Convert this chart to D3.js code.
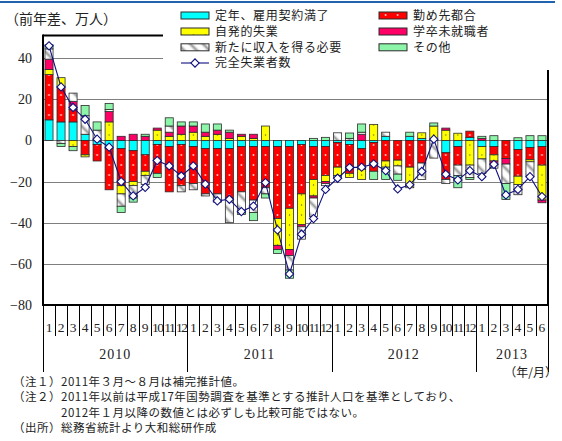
<!DOCTYPE html>
<html>
<head>
<meta charset="utf-8">
<script src="https://cdn.jsdelivr.net/npm/d3@7"></script>
<style>
  body { margin: 0; background: #fff; }
  svg { display: block; }
  .jp { font-family: "Noto Sans CJK JP", sans-serif; }
  .num { font-family: "Liberation Serif", "DejaVu Serif", serif; }
</style>
</head>
<body>
<svg id="chart" width="562" height="441"></svg>
<script>
// ---- data (前年差, 万人) : 2010/1 – 2013/6 ----
const monthLabels = ["1","2","3","4","5","6","7","8","9","10","11","12",
                     "1","2","3","4","5","6","7","8","9","10","11","12",
                     "1","2","3","4","5","6","7","8","9","10","11","12",
                     "1","2","3","4","5","6"];
const yearLabels  = ["2010", "2011", "2012", "2013"];
const yearLengths = [12, 12, 12, 6];
const yTicks = [-80, -60, -40, -20, 0, 20, 40];

const seriesNames = ["定年、雇用契約満了", "勤め先都合", "自発的失業", "学卒未就職者", "新たに収入を得る必要", "その他"];
const lineName = "完全失業者数";

const teinen    = [10, 9, 9, 3, -2, -4, -4, -5, -7, -2, -3, -2,  -3, -4, -4, -4, -3, -3, -3, -3, -3, -2, -3, -3,  -1, -2, -4, -1, 2, 0, 2, 1, 0, -6, -3, 1.5,  -3, -3, 0, -4.4, -3.4, -3];
const kinmesaki = [22, 17, 6, -7, -8, -20, -18, -15, -8, -14, -22, -20,  -18, -22, -22, -24, -22, -26, -20, -35, -30, -24, -16, -14,  -12, -14, -10, -14, -10, -9.6, -13, -11, 0, -13, -9, 3,  0, -4, -8.8, -13, -6, -9];
const jihatsu   = [2.5, 4.5, -3, -1, 0, 9, -4, -2, -2, 5, 2, 3,  4, 2, 3, 1, 2, 1, 7, -13, -20, -15, -8, -3,  -4, -2, -5, 7.8, -3, -2.8, -10, 2.7, 7, 5, 3.5, -12,  -6, -3, 0, -4, -1, -17];
const gakusotsu = [5, 0, 4, 0, 0, 5, 2, 3, 2, 1, 2, 4,  3, 2, 2, 3, 1, 2, 0, -2, -3, -1, -1, -1,  0, 0, 3, 0, 0, 0, 0, 0, 0, 1, 0, 0,  1, -1.5, -2.7, 0, 0, -1.3];
const aratani   = [5, -1.5, 4, 9, 5, 1, -6, -6, -4.4, 0, 3, -3,  -3, -1, -4, -12, -10, -6, -3, 0, -7, -6, -9, -1,  3.7, 1, 1, 0, 2, -4, 0, -8, -8.6, -2, -5, -6,  -7, -2, -9.4, -5, -7, 0];
const sonota    = [2, -1.5, -2, 5, 4, 3, -3, -2, 1, -2, 4, 2,  2, 4, 3, 1, -1, -4, -2, -2, -4, 0, 1, 1.5,  -1, 2.6, 4, -4, -6, -3, 2, 0, 1.5, 0, -6, -1,  1, 2.3, -7.8, 1.3, 2.3, 2.3];
const kanzen     = [46, 26, 16, 10.3, 0.6, -3.3, -20, -27, -22.8, -9.8, -12.4, -17.3,  -12.4, -21.2, -29.4, -28.6, -34.6, -31.9, -20.5, -43.5, -64.9, -45.6, -38, -23.8,  -18.4, -13.2, -13, -11.4, -14.7, -23.6, -21.6, -15.1, 0.6, -16.5, -19.2, -14.7,  -17.6, -11.6, -26.5, -23.8, -17.6, -27.3];

const seriesData = [teinen, kinmesaki, jihatsu, gakusotsu, aratani, sonota];

// ---- layout ----
const X0 = 43, X1 = 548, YTOP = 35.5, YBOT = 305;
const svg = d3.select("#chart");

const x = d3.scaleBand()
  .domain(d3.range(monthLabels.length))
  .range([X0, X1])
  .paddingInner(0.33)
  .paddingOuter(0.165);
const y = d3.scaleLinear().domain([-80, 51]).range([YBOT, YTOP]);
const step = x.step();
const boundary = k => X0 + k * step;

// ---- fills ----
const defs = svg.append("defs");
const pRed = defs.append("pattern").attr("id", "pRed")
  .attr("patternUnits", "userSpaceOnUse").attr("x", X0).attr("y", 0)
  .attr("width", step).attr("height", 10);
pRed.append("rect").attr("width", step).attr("height", 10).attr("fill", "#ff0000");
pRed.append("circle").attr("cx", step / 2).attr("cy", 5).attr("r", 0.9).attr("fill", "#ffd8d8");

const pYel = defs.append("pattern").attr("id", "pYel")
  .attr("patternUnits", "userSpaceOnUse").attr("x", X0).attr("y", 0)
  .attr("width", step).attr("height", 10);
pYel.append("rect").attr("width", step).attr("height", 10).attr("fill", "#ffff00");
pYel.append("circle").attr("cx", step / 2).attr("cy", 5).attr("r", 0.7).attr("fill", "#6b6b2a");

const grad = defs.append("linearGradient").attr("id", "gHatch")
  .attr("x1", "0").attr("x2", "1").attr("y1", "0").attr("y2", "0");
grad.append("stop").attr("offset", "0").attr("stop-color", "#ffffff");
grad.append("stop").attr("offset", "0.5").attr("stop-color", "#9a9a9a");
grad.append("stop").attr("offset", "1").attr("stop-color", "#ffffff");
const pHatch = defs.append("pattern").attr("id", "pHatch")
  .attr("patternUnits", "userSpaceOnUse").attr("width", 9).attr("height", 9)
  .attr("patternTransform", "rotate(-45)");
pHatch.append("rect").attr("width", 9).attr("height", 9).attr("fill", "#ffffff");
pHatch.append("rect").attr("x", 2).attr("width", 5).attr("height", 9).attr("fill", "url(#gHatch)");

const fills = ["#00ffff", "url(#pRed)", "url(#pYel)", "#ff0066", "url(#pHatch)", "#8cf5a8"];

// ---- header rule ----
svg.append("rect").attr("x", 0).attr("y", 1).attr("width", 555).attr("height", 2).attr("fill", "#2163ae");

// ---- gridlines ----
svg.append("g").selectAll("line")
  .data(yTicks.filter(v => v > -80))
  .join("line")
  .attr("x1", X0).attr("x2", X1)
  .attr("y1", d => Math.round(y(d)) + 0.5).attr("y2", d => Math.round(y(d)) + 0.5)
  .attr("stroke", "#7f7f7f").attr("stroke-width", 1);

// ---- stacked bars ----
const rows = d3.range(monthLabels.length).map(i => {
  const r = { i };
  seriesData.forEach((s, k) => r["s" + k] = s[i]);
  return r;
});
const keys = seriesData.map((s, k) => "s" + k);
const stacked = d3.stack().keys(keys).offset(d3.stackOffsetDiverging)(rows);

svg.append("g").selectAll("g")
  .data(stacked)
  .join("g")
  .attr("fill", (d, k) => fills[k])
  .selectAll("rect")
  .data(d => d.filter(v => v[1] !== v[0]))
  .join("rect")
  .attr("x", d => x(d.data.i))
  .attr("width", x.bandwidth())
  .attr("y", d => y(Math.max(d[0], d[1])))
  .attr("height", d => Math.abs(y(d[0]) - y(d[1])))
  .attr("stroke", "#2b2b2b").attr("stroke-width", 0.8);

// ---- frame ----
const frame = svg.append("g").attr("stroke", "#000").attr("fill", "none");
frame.append("line").attr("x1", X0).attr("x2", X1).attr("y1", YTOP).attr("y2", YTOP).attr("stroke-width", 2);
frame.append("line").attr("x1", X1).attr("x2", X1).attr("y1", YTOP).attr("y2", YBOT).attr("stroke-width", 2);
frame.append("line").attr("x1", X0).attr("x2", X0).attr("y1", YTOP - 1).attr("y2", YBOT).attr("stroke-width", 2);
frame.append("line").attr("x1", X0 - 1).attr("x2", X1 + 1).attr("y1", YBOT).attr("y2", YBOT).attr("stroke-width", 2);

// ---- 完全失業者数 line ----
const lineGen = d3.line().x((v, i) => x(i) + x.bandwidth() / 2).y(v => y(v));
svg.append("path").datum(kanzen)
  .attr("d", lineGen).attr("fill", "none")
  .attr("stroke", "#10107e").attr("stroke-width", 1.1);
const diamond = d3.symbol(d3.symbolSquare, 34);
svg.append("g").selectAll("path")
  .data(kanzen)
  .join("path")
  .attr("d", diamond)
  .attr("transform", (v, i) => `translate(${x(i) + x.bandwidth() / 2},${y(v)}) rotate(45)`)
  .attr("fill", "#fff").attr("stroke", "#10107e").attr("stroke-width", 1.1);

// ---- y axis ----
const yAxis = svg.append("g").attr("transform", `translate(${X0},0)`)
  .call(d3.axisLeft(y).tickValues(yTicks).tickSize(0).tickPadding(11));
yAxis.select(".domain").remove();
yAxis.selectAll("text").attr("class", "num").attr("font-size", 14).attr("fill", "#222");

// ---- x axis: months, separators, years ----
const xAxis = svg.append("g").attr("transform", `translate(0,${YBOT})`)
  .call(d3.axisBottom(x).tickFormat(i => monthLabels[i]).tickSize(0).tickPadding(17));
xAxis.select(".domain").remove();
xAxis.selectAll("text").attr("class", "num").attr("font-size", 13.5).attr("fill", "#222")
  .attr("letter-spacing", i => monthLabels[i].length > 1 ? -1.5 : 0);

const yearStarts = d3.cumsum([0, ...yearLengths]);
const yearBounds = new Set(yearStarts);
svg.append("g").selectAll("line")
  .data(d3.range(monthLabels.length + 1))
  .join("line")
  .attr("x1", k => Math.round(boundary(k)) + 0.5).attr("x2", k => Math.round(boundary(k)) + 0.5)
  .attr("y1", YBOT).attr("y2", k => yearBounds.has(k) ? 372 : 336)
  .attr("stroke", "#000").attr("stroke-width", 1);

svg.append("g").selectAll("text")
  .data(yearLabels)
  .join("text")
  .attr("class", "num")
  .attr("x", (d, j) => (boundary(yearStarts[j]) + boundary(yearStarts[j + 1])) / 2)
  .attr("y", 359)
  .attr("text-anchor", "middle")
  .attr("font-size", 14).attr("letter-spacing", 1).attr("fill", "#222")
  .text(d => d);

svg.append("text").attr("class", "jp").attr("x", 557).attr("y", 377)
  .attr("text-anchor", "end").attr("font-size", 12).attr("fill", "#222").text("（年/月）");

// ---- unit label ----
svg.append("text").attr("class", "jp").attr("x", 5).attr("y", 24)
  .attr("font-size", 14).attr("fill", "#222").text("（前年差、万人）");

// ---- legend ----
svg.append("rect").attr("x", 163).attr("y", 4).attr("width", 399).attr("height", 66).attr("fill", "#fff");
const legendPos = [[181, 15.5], [379, 15.5], [181, 31.5], [379, 31.5], [181, 47.3], [379, 47.3]];
const lg = svg.append("g");
seriesNames.forEach((name, k) => {
  const [lx, ly] = legendPos[k];
  lg.append("rect").attr("x", lx).attr("y", ly - 3.5).attr("width", 28).attr("height", 7)
    .attr("fill", fills[k]).attr("stroke", "#2b2b2b").attr("stroke-width", 1);
  lg.append("text").attr("class", "jp").attr("x", lx + 34).attr("y", ly + 4.2)
    .attr("font-size", 12).attr("fill", "#222").attr("letter-spacing", 0.7).text(name);
});
lg.append("line").attr("x1", 181).attr("x2", 209).attr("y1", 63).attr("y2", 63)
  .attr("stroke", "#10107e").attr("stroke-width", 1.1);
lg.append("path").attr("d", diamond).attr("transform", "translate(195,63) rotate(45)")
  .attr("fill", "#fff").attr("stroke", "#10107e").attr("stroke-width", 1.1);
lg.append("text").attr("class", "jp").attr("x", 215).attr("y", 67.2)
  .attr("font-size", 12).attr("fill", "#222").attr("letter-spacing", 0.7).text(lineName);

// ---- notes ----
const notes = [
  [13, 385.5, "（注１）2011年３月～８月は補完推計値。"],
  [13, 401, "（注２）2011年以前は平成17年国勢調査を基準とする推計人口を基準としており、"],
  [61, 416.5, "2012年１月以降の数値とは必ずしも比較可能ではない。"],
  [13, 432, "（出所）総務省統計より大和総研作成"]
];
svg.append("g").selectAll("text")
  .data(notes)
  .join("text")
  .attr("class", "jp")
  .attr("x", d => d[0]).attr("y", d => d[1])
  .attr("font-size", 11.5).attr("letter-spacing", 0.5).attr("fill", "#222")
  .text(d => d[2]);
</script>
</body>
</html>
